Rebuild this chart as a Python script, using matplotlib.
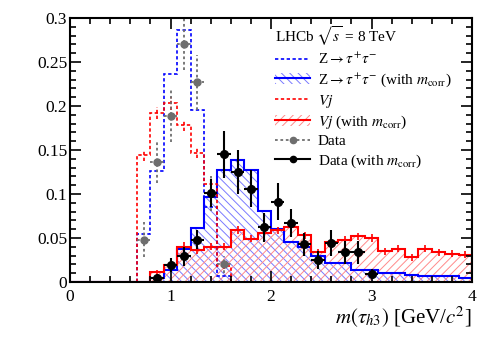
import numpy as np
import matplotlib
matplotlib.use("Agg")
import matplotlib.pyplot as plt
from matplotlib.patches import Patch
from matplotlib.lines import Line2D
from matplotlib.ticker import MultipleLocator

plt.rcParams['font.family'] = ['Liberation Serif', 'DejaVu Serif']
plt.rcParams['mathtext.fontset'] = 'stix'
plt.rcParams['hatch.linewidth'] = 0.7

# binning: 30 bins on [0, 4]
edges = np.linspace(0, 4, 31)
centres = 0.5 * (edges[:-1] + edges[1:])
half_width = 0.5 * (edges[1] - edges[0])

# dashed histograms (without m_corr), bins 5..11 (0.667 - 1.6)
z_plain = [0.055, 0.126, 0.236, 0.286, 0.195, 0.085, 0.007]
vj_plain = [0.144, 0.192, 0.203, 0.178, 0.147, 0.111, 0.018]
vj_plain_err = [0.006, 0.007, 0.007, 0.006, 0.006, 0.006, 0.003]

# solid histograms (with m_corr), all 30 bins
z_corr = [0, 0, 0, 0, 0, 0,
          0.005, 0.014, 0.037, 0.061, 0.097, 0.127, 0.139, 0.127, 0.081, 0.060,
          0.045, 0.040, 0.029, 0.022, 0.022, 0.014, 0.014, 0.010, 0.010, 0.008,
          0.007, 0.007, 0.007, 0.004]
vj_corr = [0, 0, 0, 0, 0, 0,
           0.011, 0.019, 0.040, 0.036, 0.040, 0.040, 0.059, 0.049, 0.056, 0.059,
           0.063, 0.053, 0.034, 0.045, 0.048, 0.052, 0.050, 0.035, 0.038, 0.028,
           0.038, 0.034, 0.032, 0.031]
vj_corr_err = [0, 0, 0, 0, 0, 0,
               0.003, 0.004, 0.005, 0.004, 0.004, 0.004, 0.005, 0.004, 0.004, 0.004,
               0.005, 0.004, 0.004, 0.004, 0.004, 0.004, 0.004, 0.004, 0.004, 0.004,
               0.004, 0.004, 0.004, 0.004]

# data without m_corr (grey)
data_x = [0.733, 0.867, 1.0, 1.133, 1.267, 1.4, 1.533]
data_y = [0.048, 0.136, 0.189, 0.271, 0.227, 0.101, 0.020]
data_err = [0.020, 0.024, 0.030, 0.030, 0.031, 0.020, 0.010]

# data with m_corr (black)
dcorr_x = [0.867, 1.0, 1.133, 1.267, 1.4, 1.533, 1.667, 1.8, 1.933, 2.067,
           2.2, 2.333, 2.467, 2.6, 2.733, 2.867, 3.0]
dcorr_y = [0.004, 0.019, 0.029, 0.048, 0.101, 0.145, 0.125, 0.106, 0.062, 0.091,
           0.067, 0.043, 0.025, 0.044, 0.034, 0.034, 0.009]
dcorr_err = [0.004, 0.008, 0.011, 0.011, 0.016, 0.027, 0.025, 0.021, 0.016, 0.021,
             0.016, 0.013, 0.010, 0.015, 0.013, 0.013, 0.006]

blue, blue_light = '#0000ff', '#7a7aff'
red, red_light = '#ff0000', '#ff8a8a'
grey = '#6e6e6e'

fig = plt.figure(figsize=(4.98, 3.38), dpi=100)
ax = fig.add_axes([0.1406, 0.1657, 0.8072, 0.781])

# hatched fills
ax.stairs(z_corr, edges, fill=True, facecolor='none', edgecolor=blue_light,
          hatch='\\\\\\\\', linewidth=0)
ax.stairs(vj_corr, edges, fill=True, facecolor='none', edgecolor=red_light,
          hatch='////', linewidth=0)

# solid outlines
ax.stairs(z_corr, edges, color=blue, linewidth=1.5)
ax.stairs(vj_corr, edges, color=red, linewidth=1.5)
ax.errorbar(centres[6:], vj_corr[6:], yerr=vj_corr_err[6:], fmt='none',
            ecolor=red, elinewidth=1.2)

# dashed histograms
plain_edges = edges[5:13]
ax.stairs(z_plain, plain_edges, color=blue, linewidth=1.2, linestyle=(0, (2, 1.5)))
ax.stairs(vj_plain, plain_edges, color=red, linewidth=1.2, linestyle=(0, (2, 1.5)))
eb = ax.errorbar(centres[5:12], vj_plain, yerr=vj_plain_err, fmt='none',
                 ecolor=red, elinewidth=1.2)
eb[2][0].set_linestyle((0, (2, 1.5)))

# data points
eb = ax.errorbar(data_x, data_y, xerr=half_width, yerr=data_err, fmt='o',
                 color=grey, ms=5, elinewidth=1.3)
for c in eb[2]:
    c.set_linestyle((0, (1.5, 1.5)))
ax.errorbar(dcorr_x, dcorr_y, xerr=half_width, yerr=dcorr_err, fmt='o',
            color='black', ms=5.5, elinewidth=1.5)

ax.set_xlim(0, 4)
ax.set_ylim(0, 0.3)
ax.xaxis.set_major_locator(MultipleLocator(1))
ax.xaxis.set_minor_locator(MultipleLocator(0.2))
ax.yaxis.set_minor_locator(MultipleLocator(0.01))
ax.set_yticks([0, 0.05, 0.1, 0.15, 0.2, 0.25, 0.3])
ax.set_yticklabels(['0', '0.05', '0.1', '0.15', '0.2', '0.25', '0.3'])
ax.tick_params(which='both', direction='in', top=True, right=True, width=1.2,
               labelsize=12.5)
ax.tick_params(axis='y', which='major', length=8, pad=2)
ax.tick_params(axis='x', which='major', length=8, pad=5)
ax.tick_params(which='minor', length=4)
for s in ax.spines.values():
    s.set_linewidth(1.5)

ax.set_xlabel(r'$m(\tau_{h3})$ [GeV/$c^2$]', loc='right', fontsize=15, labelpad=0)

handles = [
    Line2D([], [], color=blue, lw=1.2, linestyle=(0, (2, 1.5))),
    (Patch(facecolor='none', edgecolor=blue_light, hatch='\\\\\\\\', lw=0),
     Line2D([], [], color=blue, lw=1.5)),
    Line2D([], [], color=red, lw=1.2, linestyle=(0, (2, 1.5))),
    (Patch(facecolor='none', edgecolor=red_light, hatch='////', lw=0),
     Line2D([], [], color=red, lw=1.5)),
    Line2D([], [], color=grey, lw=1.3, linestyle=(0, (1.5, 1.5)), marker='o', ms=4.5),
    Line2D([], [], color='black', lw=1.5, marker='o', ms=4.5),
]
labels = [
    r'Z$\rightarrow\tau^{+}\tau^{-}$',
    r'Z$\rightarrow\tau^{+}\tau^{-}$ (with $m_{\rm corr}$)',
    r'$Vj$',
    r'$Vj$ (with $m_{\rm corr}$)',
    'Data',
    r'Data (with $m_{\rm corr}$)',
]
leg = ax.legend(handles, labels, loc='upper left', bbox_to_anchor=(0.51, 0.975),
                frameon=False, fontsize=11, title=r'LHCb $\sqrt{s}$ = 8 TeV',
                title_fontsize=11, alignment='left', handlelength=2.3,
                handletextpad=0.5, labelspacing=0.25, borderpad=0,
                borderaxespad=0)

fig.savefig('out.png', dpi=100)
